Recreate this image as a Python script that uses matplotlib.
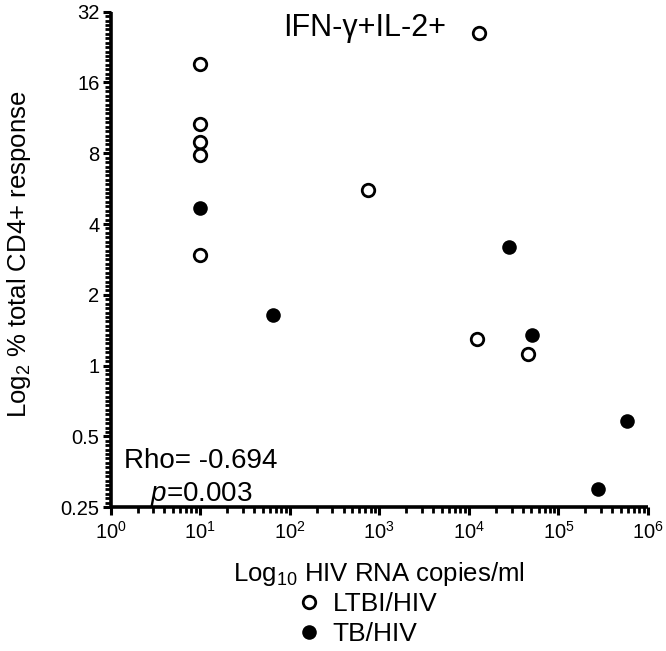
import numpy as np
import matplotlib
matplotlib.use("Agg")
import matplotlib.pyplot as plt
from matplotlib.ticker import FixedLocator, FuncFormatter, LogLocator, NullFormatter

plt.rcParams['font.family'] = ['Liberation Sans', 'DejaVu Sans']
plt.rcParams['mathtext.fontset'] = 'custom'
plt.rcParams['mathtext.rm'] = 'Liberation Sans'
plt.rcParams['mathtext.it'] = 'Liberation Sans:italic'
plt.rcParams['mathtext.bf'] = 'Liberation Sans:bold'

# LTBI/HIV (open circles)
ltbi_x = [10, 10, 10, 10, 10, 755, 13100, 12300, 45200]
ltbi_y = [19.1, 10.7, 8.9, 7.9, 2.95, 5.6, 26.0, 1.30, 1.12]

# TB/HIV (filled circles)
tb_x = [10, 65, 28400, 51300, 590000, 277000]
tb_y = [4.66, 1.64, 3.18, 1.35, 0.58, 0.30]

y_ticks = [0.25, 0.5, 1, 2, 4, 8, 16, 32]

fig = plt.figure(figsize=(6.66, 6.51), dpi=100)
ax = fig.add_axes([0.166, 0.221, 0.807, 0.761])

ax.plot(ltbi_x, ltbi_y, 'o', ms=9, mfc='white', mec='black', mew=2.0,
        ls='none', label='LTBI/HIV', clip_on=False, zorder=3)
ax.plot(tb_x, tb_y, 'o', ms=10.5, mfc='black', mec='black', mew=0,
        ls='none', label='TB/HIV', clip_on=False, zorder=3)

ax.set_xscale('log')
ax.set_yscale('log', base=2)
ax.set_xlim(1, 1e6)
ax.set_ylim(0.25, 32)

ax.set_yticks(y_ticks)
ax.yaxis.set_major_formatter(FuncFormatter(lambda v, p: '%g' % v))
minor_y = [2 ** (k + i / 16.0) for k in range(-2, 5) for i in range(1, 16)]
ax.yaxis.set_minor_locator(FixedLocator(minor_y))
ax.yaxis.set_minor_formatter(NullFormatter())
ax.xaxis.set_major_locator(LogLocator(base=10, numticks=10))
ax.xaxis.set_minor_locator(LogLocator(base=10, subs=np.arange(2, 10), numticks=10))
ax.xaxis.set_minor_formatter(NullFormatter())

for s in ['top', 'right']:
    ax.spines[s].set_visible(False)
for s in ['left', 'bottom']:
    ax.spines[s].set_linewidth(2.6)
    ax.spines[s].set_capstyle('butt')

ax.tick_params(which='major', direction='out', length=6, width=2.2, labelsize=14.5, pad=2)
ax.tick_params(which='minor', direction='out', length=4.5, width=2.0)
ax.tick_params(axis='x', which='major', labelsize=14.5, pad=4)

ax.set_xlabel(r'Log$_{\mathregular{10}}$ HIV RNA copies/ml', fontsize=18.5, labelpad=12)
ax.set_ylabel(r'Log$_{\mathregular{2}}$ % total CD4+ response', fontsize=18.5)
ax.yaxis.set_label_coords(-0.145, 0.51)

fig.text(0.547, 0.957, 'IFN-γ+IL-2+', fontsize=22, ha='center', va='center')
fig.text(0.302, 0.265, 'Rho= -0.694\n' + r'$\mathit{p}$=0.003', fontsize=20,
         ha='center', va='center', linespacing=1.25)

fig.legend(loc='center', bbox_to_anchor=(0.548, 0.049), frameon=False,
           fontsize=19, handletextpad=0.3, labelspacing=0.22, handlelength=1.2,
           borderaxespad=0, borderpad=0)

fig.savefig('out.png', dpi=100)
